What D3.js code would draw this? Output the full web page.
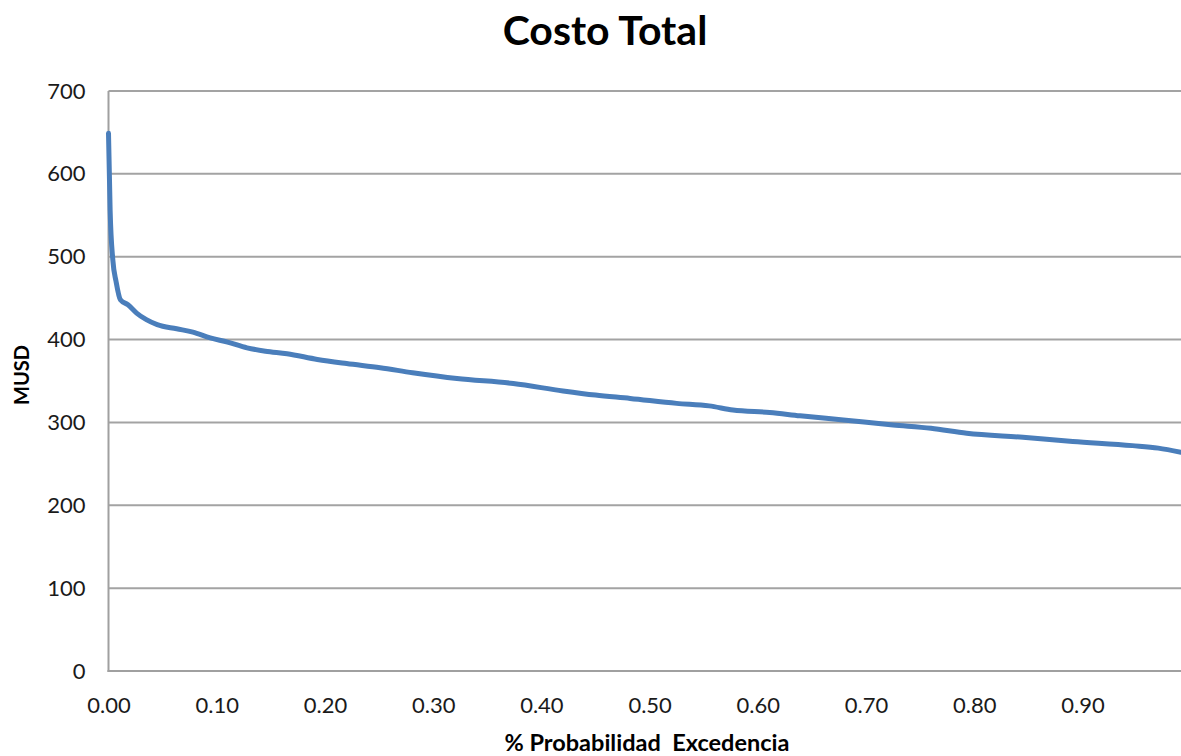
<!DOCTYPE html>
<html>
<head>
<meta charset="utf-8">
<script src="https://cdn.jsdelivr.net/npm/d3@7"></script>
<style>
  html, body { margin: 0; padding: 0; background: #fff; }
  svg { display: block; font-family: Lato, "Open Sans", sans-serif; }
</style>
</head>
<body>
<svg id="chart" width="1181" height="756"></svg>
<script>
// Exceedance probability (x) and total cost in MUSD (y)
const probability = [0, 0.0015, 0.004, 0.007, 0.011, 0.018, 0.026, 0.035, 0.045, 0.063, 0.078, 0.094,
  0.11, 0.128, 0.145, 0.165, 0.193, 0.22, 0.251, 0.281, 0.322, 0.374, 0.42, 0.45, 0.482, 0.525,
  0.555, 0.577, 0.611, 0.639, 0.679, 0.725, 0.76, 0.793, 0.845, 0.891, 0.946, 0.97, 0.991];
const costMUSD = [649, 556, 496, 470, 448, 442, 432, 424, 418, 413, 409, 402,
  397, 390, 386, 383, 376, 371, 366, 360, 353, 347, 338, 333, 329, 323,
  320, 315, 312, 308, 303, 297, 293, 287, 282, 277, 272, 269, 264];

const yTicks = [0, 100, 200, 300, 400, 500, 600, 700];
const xTicks = [0, 0.1, 0.2, 0.3, 0.4, 0.5, 0.6, 0.7, 0.8, 0.9];

const title = "Costo Total";
const xTitle = "% Probabilidad\u00A0 Excedencia";
const yTitle = "MUSD";

const svg = d3.select("#chart");
const W = 1181, H = 756;
const margin = { top: 91, right: 0, bottom: 85, left: 108.5 };

const x = d3.scaleLinear().domain([0, 0.991]).range([margin.left, W - margin.right]);
const y = d3.scaleLinear().domain([0, 700]).range([H - margin.bottom, margin.top]);

// Horizontal gridlines
svg.append("g")
  .selectAll("line")
  .data(yTicks.filter(d => d > 0))
  .join("line")
  .attr("x1", x(0)).attr("x2", W)
  .attr("y1", d => y(d)).attr("y2", d => y(d))
  .attr("stroke", "#a3a3a3").attr("stroke-width", 2);

// Y axis (labels only, no tick marks)
const yAxis = svg.append("g")
  .attr("transform", `translate(${x(0)},0)`)
  .call(d3.axisLeft(y).tickValues(yTicks).tickSize(0).tickPadding(23).tickFormat(d3.format("d")));
yAxis.select(".domain").remove();
yAxis.selectAll("text")
  .attr("font-size", 22).attr("fill", "#1a1a1a").attr("font-family", "Lato, sans-serif");

// X axis (labels only)
const xAxis = svg.append("g")
  .attr("transform", `translate(0,${y(0)})`)
  .call(d3.axisBottom(x).tickValues(xTicks).tickSize(0).tickPadding(26).tickFormat(d3.format(".2f")));
xAxis.select(".domain").remove();
xAxis.selectAll("text")
  .attr("font-size", 22).attr("fill", "#1a1a1a").attr("font-family", "Lato, sans-serif");

// Axis lines
svg.append("line")
  .attr("x1", x(0)).attr("x2", x(0))
  .attr("y1", y(700)).attr("y2", y(0) + 1)
  .attr("stroke", "#a0a0a0").attr("stroke-width", 2);
svg.append("line")
  .attr("x1", x(0) - 1).attr("x2", W)
  .attr("y1", y(0)).attr("y2", y(0))
  .attr("stroke", "#a0a0a0").attr("stroke-width", 2);

// Cost curve
const series = probability.map((p, i) => ({ p, v: costMUSD[i] }));
const line = d3.line()
  .x(d => x(d.p))
  .y(d => y(d.v))
  .curve(d3.curveMonotoneX);
svg.append("path")
  .datum(series)
  .attr("d", line)
  .attr("fill", "none")
  .attr("stroke", "#4a7ebb")
  .attr("stroke-width", 5)
  .attr("stroke-linejoin", "round")
  .attr("stroke-linecap", "round");

// Titles
svg.append("text")
  .attr("x", 605).attr("y", 45)
  .attr("text-anchor", "middle")
  .attr("font-size", 41).attr("font-weight", 700)
  .attr("fill", "#000")
  .text(title);

svg.append("text")
  .attr("x", 647).attr("y", 751)
  .attr("text-anchor", "middle")
  .attr("font-size", 23.5).attr("font-weight", 700)
  .attr("fill", "#000")
  .text(xTitle);

svg.append("text")
  .attr("transform", `translate(29,${(y(0) + y(700)) / 2 - 6}) rotate(-90)`)
  .attr("text-anchor", "middle")
  .attr("font-size", 20).attr("font-weight", 700)
  .attr("fill", "#000")
  .text(yTitle);
</script>
</body>
</html>
